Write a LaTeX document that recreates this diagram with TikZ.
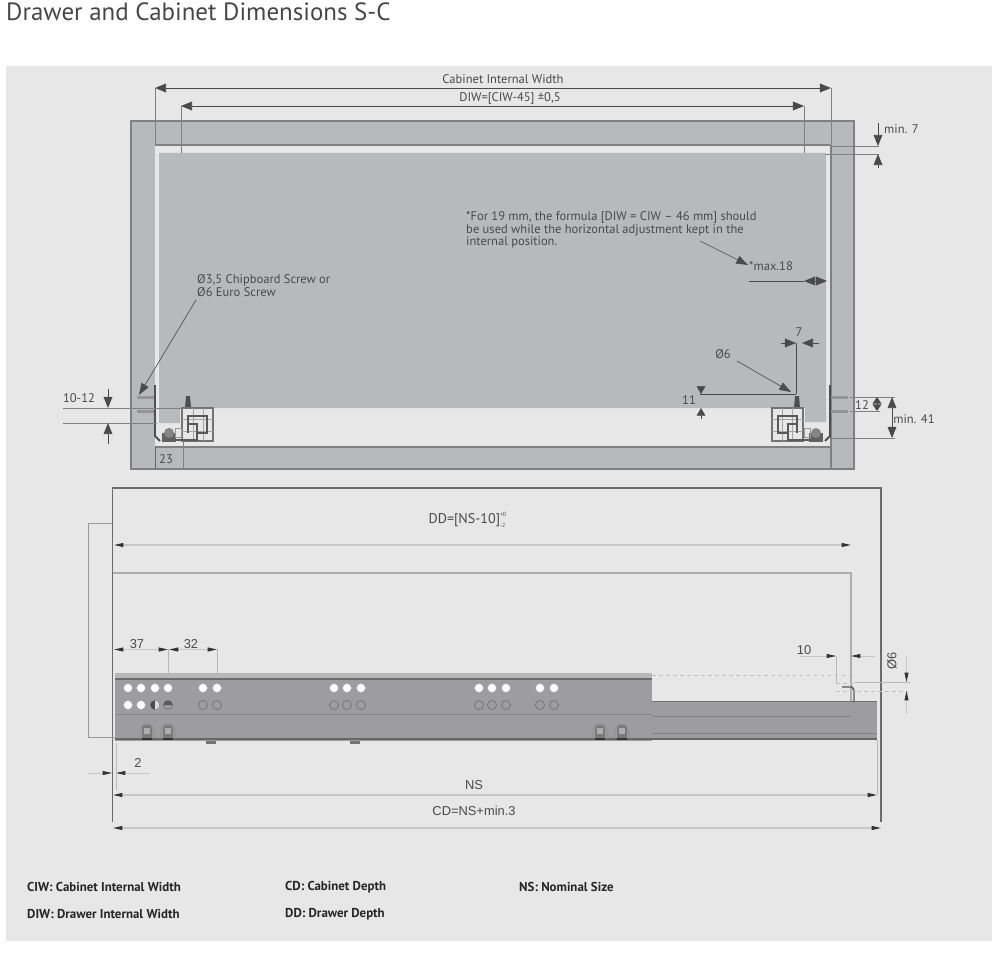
\documentclass[tikz,border=0pt]{standalone}
\usepackage{fontspec}
\setmainfont{PT Sans}
\newfontfamily\arialfont{Liberation Sans}
\usetikzlibrary{arrows.meta}
\definecolor{sheetgray}{HTML}{E7E7E7}
\definecolor{panelgray}{HTML}{B8B9BA}
\definecolor{edgegray}{HTML}{808082}
\definecolor{runnergray}{HTML}{9D9D9F}
\definecolor{inkgray}{HTML}{4A4A4C}
\definecolor{darkpart}{HTML}{4F4F51}
\tikzset{
  panel/.style={fill=panelgray,draw=edgegray,line width=0.9pt},
  dimline/.style={draw=inkgray,line width=0.75pt},
  extline/.style={draw=edgegray,line width=0.7pt},
  faintline/.style={draw=black!28,line width=0.6pt},
  bigboth/.style={dimline,{Triangle[length=9.5pt,width=7.5pt]}-{Triangle[length=9.5pt,width=7.5pt]}},
  bigend/.style={dimline,-{Triangle[length=9.5pt,width=7.5pt]}},
  midend/.style={dimline,-{Triangle[length=6.6pt,width=7.5pt]}},
  shortend/.style={dimline,-{Triangle[length=5.6pt,width=7.5pt]}},
  thinend/.style={draw=black!70,line width=0.55pt,-{Triangle[length=10pt,width=7pt]}},
  lowboth/.style={draw=black!22,line width=0.9pt,{Triangle[length=8pt,width=3.4pt,black!80]}-{Triangle[length=8pt,width=3.4pt,black!80]}},
  lowend/.style={draw=black!22,line width=0.7pt,-{Triangle[length=8pt,width=3.4pt,black!80]}},
  toplabel/.style={inner sep=0pt,text=inkgray,font=\fontsize{10.7}{11}\selectfont},
  lowlabel/.style={inner sep=0pt,text=inkgray,font=\arialfont\fontsize{11}{12}\selectfont},
  keylabel/.style={inner sep=0pt,anchor=west,text=black!85,font=\bfseries\fontsize{11}{12}\selectfont},
  openhole/.style={fill=white,draw=black!35,line width=0.4pt},
  blindhole/.style={draw=black!55,line width=0.6pt},
  hardware/.pic={
    % screws, upright and runner
    \foreach \sy in {397,411}
      \fill[black!42] (137,\sy-1.5) rectangle (155,\sy+1.5);
    \draw[darkpart,line width=1.6pt] (155,385) -- (155,436) -- (160,441);
    \fill[darkpart] (186,396) -- (190,396) -- (191,408) -- (185,408) -- cycle;
    \draw[black!55,line width=0.9pt] (182,408) rectangle (213,441);
    \draw[black!35,line width=0.6pt] (182,419) -- (213,419) (182,431) -- (213,431)
      (193,408) -- (193,441) (203,408) -- (203,441);
    \draw[black!65,line width=1.3pt] (188,433) -- (188,416) -- (207,416) -- (207,433)
      -- (197,433) -- (197,440) -- (172,440);
    \draw[black!65,line width=1.1pt] (188,424) -- (197,424) -- (197,433);
    \fill[black!62] (162,433) rectangle (176,442);
    \fill[black!48] (169,433) circle [radius=5];
    \draw[black!40,line width=0.6pt] (175,428) rectangle (181,437);
  },
  slideclip/.pic={
    \fill[black!52] (-5,3) -- (-3,0) -- (3,0) -- (5,3) -- (5,14) -- (-5,14) -- cycle;
    \fill[black!32] (-3,3) rectangle (3,9);
    \draw[black!45,line width=0.5pt] (-8,14) -- (-6,3) -- (-3,-1) -- (3,-1) -- (6,3) -- (8,14);
    \draw[black!80,line width=1pt] (-5,14) -- (5,14);
  }
}
\begin{document}
\begin{tikzpicture}[x=0.03cm,y=-0.03cm]
  \useasboundingbox (0,0) rectangle (1000,956);
  \fill[white] (0,0) rectangle (1000,956);
  \fill[sheetgray] (6,66) rectangle (992,941);
  \node[anchor=west,inner sep=0pt,text=black!72,font=\fontsize{21.3}{24}\selectfont] (title) at (6,12)
    {Drawer and Cabinet Dimensions S-C};

  % top view, cabinet
  \path[panel] (131,121) rectangle (854,469);
  \fill[sheetgray] (155,145) rectangle (830,447);
  \draw[edgegray,line width=0.9pt] (155,145) -- (830,145) (155,447) -- (830,447);
  \draw[edgegray,line width=0.9pt] (831,145) -- (831,469);
  \draw[black!60,line width=0.6pt] (155,447) -- (155,469);
  % top view, drawer
  \fill[panelgray] (159,153) -- (826,153) -- (826,422) -- (805,422) -- (805,408)
    -- (180,408) -- (180,423) -- (159,423) -- cycle;
  \draw[faintline] (180,153) -- (180,408) (805,153) -- (805,408) (180,387) -- (805,387);
  \pic at (0,0) {hardware};
  \pic[xscale=-1] at (985,0) {hardware};
  \draw[black!50,line width=0.6pt] (183,441) -- (183,469);

  % overall widths
  \draw[extline] (155,88) -- (155,146);
  \draw[extline] (831,88) -- (831,147);
  \draw[extline] (181,106) -- (181,153);
  \draw[extline] (804,106) -- (804,153);
  \draw[bigboth] (155,88) -- (831,88);
  \draw[bigboth] (181,106) -- (804,106);
  \node[toplabel] (ciw) at (503,79) {Cabinet Internal Width};
  \node[toplabel] (diw) at (510,98) {DIW=[CIW-45] ±0,5};

  % gap above the drawer
  \draw[extline] (831,146.5) -- (879,146.5);
  \draw[extline] (825,154) -- (879,154);
  \draw[bigend] (878,123) -- (878,146);
  \draw[bigend] (878,168) -- (878,154);
  \node[toplabel,anchor=west] (gap) at (884,129) {min. 7};

  % note
  \node[toplabel,anchor=north west,align=left] (note) at (466,211)
    {*For 19 mm, the formula [DIW = CIW – 46 mm] should\\
     be used while the horizontal adjustment kept in the\\
     internal position.};
  \node[toplabel,anchor=west] (maxeighteen) at (749,266) {*max.18};
  \draw[thinend] (700,241) -- (748,265);
  \draw[dimline] (749,281) -- (804,281);
  \draw[bigend] (816,281) -- (804,281);
  \draw[bigend] (815,281) -- (827,281);

  % screw note
  \node[toplabel,anchor=north west,align=left] (screw) at (197,274)
    {Ø3,5 Chipboard Screw or\\Ø6 Euro Screw};
  \draw[thinend] (196,300) -- (139,395);

  % left side dimensions
  \draw[extline] (63,408.5) -- (185,408.5);
  \draw[extline] (63,423) -- (157,423);
  \draw[bigend] (108,389) -- (108,408);
  \draw[bigend] (108,444) -- (108,423);
  \node[toplabel] (screwgap) at (79,398) {10-12};
  \node[toplabel] (twentythree) at (166,459) {23};

  % right side dimensions
  \draw[dimline] (796,343) -- (796,394);
  \draw[dimline] (700,394) -- (796,394);
  \draw[bigend] (781,343) -- (796,343);
  \draw[bigend] (819,343) -- (802,343);
  \node[toplabel] (seven) at (799,332) {7};
  \node[toplabel] (hole) at (723,354) {Ø6};
  \draw[thinend] (737,361) -- (791,392);
  \draw[midend] (701,386) -- (701,394);
  \draw[midend] (701,419) -- (701,408);
  \node[toplabel] (eleven) at (689,400) {11};
  \draw[extline] (850,397) -- (895,397);
  \draw[extline] (850,411) -- (880,411);
  \draw[extline] (830,438) -- (895,438);
  \draw[shortend] (877,404) -- (877,397);
  \draw[shortend] (877,404) -- (877,411);
  \draw[bigboth] (892,397) -- (892,438);
  \node[toplabel] (twelve) at (862,405) {12};
  \node[toplabel] (minforty) at (914,419) {min. 41};

  % side view, cabinet and drawer
  \draw[black!58,line width=1.3pt] (112.5,822) -- (112.5,488) -- (881,488) -- (881,822);
  \draw[black!40,line width=0.8pt] (112,523) -- (88,523) -- (88,737) -- (115,737);
  \draw[black!32,line width=0.9pt] (113,573) -- (851,573) -- (851,717);
  \draw[black!25,line width=0.5pt,dashed] (652,675) -- (851,675);

  % side view, runner
  \fill[runnergray] (652,701) rectangle (877,740);
  \draw[black!55,line width=0.8pt] (652,701) -- (877,701);
  \draw[black!50,line width=0.7pt] (652,716) -- (851,716);
  \draw[black!50,line width=0.7pt] (652,733) -- (877,733);
  \draw[black!60,line width=1.2pt] (652,739) -- (877,739);
  \fill[runnergray] (115,674) rectangle (652,741);
  \fill[black!28] (115,673) rectangle (652,678);
  \draw[black!58,line width=1pt] (115,679) -- (652,679);
  \draw[black!48,line width=0.7pt] (115,714) -- (652,714);
  \draw[black!60,line width=1.6pt] (115,739) -- (652,739);
  \foreach \hx in {128,141,155,168,203,217,334,347,361,479,492,506,540,554}
    \path[openhole] (\hx,688) circle [radius=4.5];
  \foreach \hx in {128,141}
    \path[openhole] (\hx,705) circle [radius=4.5];
  \foreach \hx in {155,168,203,217,334,347,361,479,492,506,540,554}
    \draw[blindhole] (\hx,705) circle [radius=4.5];
  \fill[black!70] (155,709.5) arc [start angle=90,end angle=270,radius=4.5] -- cycle;
  \fill[black!15] (155,709.5) arc [start angle=90,end angle=-90,radius=4.5] -- cycle;
  \fill[black!65] (163.5,705) arc [start angle=180,end angle=360,radius=4.5] -- cycle;
  \foreach \cx in {147,168,600,622}
    \pic at (\cx,725) {slideclip};
  \foreach \tx in {211,355}
    \fill[black!55] (\tx-5,741) rectangle (\tx+5,744);
  \draw[black!65,line width=1.2pt] (842,687) -- (852,687) -- (854,690) -- (854,702);

  % side view, dimensions
  \draw[faintline] (168,649) -- (168,673) (217,649) -- (217,673);
  \draw[lowboth] (114,649.5) -- (168,649.5);
  \draw[lowboth] (169,649.5) -- (217,649.5);
  \node[lowlabel] (holeone) at (137,644) {37};
  \node[lowlabel] (holetwo) at (191,644) {32};
  \draw[lowend] (88,773) -- (112,773);
  \draw[lowend] (150,773) -- (116,773);
  \draw[faintline] (116,743) -- (116,790);
  \node[lowlabel] (setback) at (138,763) {2};
  \draw[lowboth] (114,545) -- (851,545);
  \node[toplabel,font=\fontsize{12}{13}\selectfont] (dd) at (467,520)
    {DD=[NS-10]\rlap{\raisebox{5.5pt}{\fontsize{5}{5}\selectfont +0}}\raisebox{-3.5pt}{\fontsize{5}{5}\selectfont -2}};
  \draw[faintline] (877,740) -- (877,795);
  \draw[lowboth] (113,795) -- (877,795);
  \node[lowlabel] (ns) at (474,785) {NS};
  \draw[lowboth] (113,828) -- (881,828);
  \node[lowlabel] (cd) at (474,811) {CD=NS+min.3};
  \draw[faintline] (836,656) -- (836,683);
  \draw[black!25,line width=0.5pt,dashed] (836,683) -- (855,683) (836,691) -- (908,691);
  \draw[faintline] (855,682) -- (910,682);
  \draw[lowend] (800,656) -- (836,656);
  \draw[lowend] (875,656) -- (851,656);
  \node[lowlabel] (hookten) at (804,650) {10};
  \draw[lowend] (906.5,656) -- (906.5,682);
  \draw[lowend] (906.5,714) -- (906.5,691);
  \node[lowlabel,rotate=90] (hookhole) at (892,661) {Ø6};

  % key
  \node[keylabel] (keyciw) at (27,887) {CIW: Cabinet Internal Width};
  \node[keylabel] (keydiw) at (27,914) {DIW: Drawer Internal Width};
  \node[keylabel] (keycd) at (285,887) {CD: Cabinet Depth};
  \node[keylabel] (keydd) at (285,914) {DD: Drawer Depth};
  \node[keylabel] (keyns) at (519,887) {NS: Nominal Size};
\end{tikzpicture}
\end{document}
